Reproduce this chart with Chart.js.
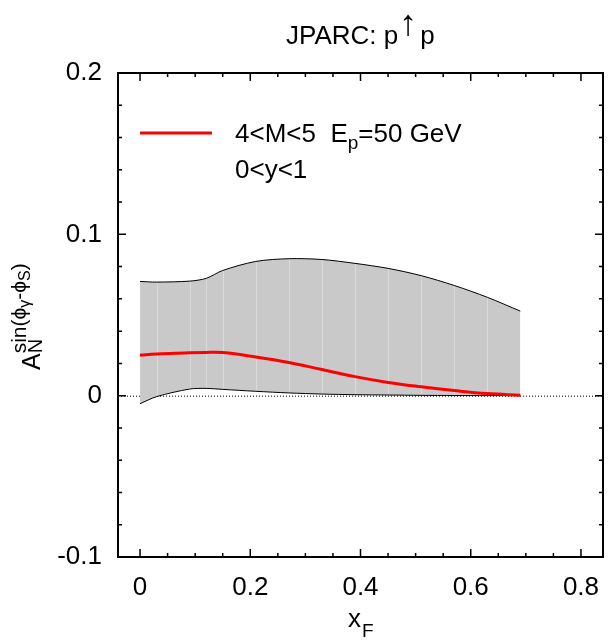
<!DOCTYPE html>
<html>
<head>
<meta charset="utf-8">
<script src="https://cdn.jsdelivr.net/npm/chart.js@4.4.0/dist/chart.umd.min.js"></script>
<style>
  body { margin: 0; background: #fff; }
</style>
</head>
<body>
<canvas id="asym" width="610" height="642"></canvas>
<script>
// xF points and the curves
const xF = [0, 0.03, 0.09, 0.12, 0.15, 0.21, 0.27, 0.33, 0.39, 0.45, 0.51, 0.57, 0.63, 0.69];
const central = [0.025, 0.0258, 0.0266, 0.0268, 0.0267, 0.0240, 0.0206, 0.0162, 0.0118, 0.0082, 0.0055, 0.0032, 0.0013, 0.0003];
const bandUpper = [0.0708, 0.0704, 0.0710, 0.0727, 0.0776, 0.0832, 0.0849, 0.0844, 0.0820, 0.0789, 0.0744, 0.0683, 0.0610, 0.0524];
const bandLower = [-0.0050, -0.0006, 0.0041, 0.0045, 0.0039, 0.0027, 0.0017, 0.0010, 0.0006, 0.0004, 0.0002, 0.0001, 0.00005, 0];
const xTicks = [0, 0.2, 0.4, 0.6, 0.8];
const yTicks = [-0.1, 0, 0.1, 0.2];

const FONT = '"Liberation Sans", Arial, Helvetica, sans-serif';

function pts(ys) {
    return xF.map((x, i) => ({ x: x, y: ys[i] }));
}

// frame, inward ticks, zero line, labels
const decorations = {
    id: 'decorations',
    beforeDatasetsDraw(chart) {
        const ctx = chart.ctx;
        const a = chart.chartArea;
        const y0 = chart.scales.y.getPixelForValue(0);
        ctx.save();
        ctx.strokeStyle = '#000';
        ctx.lineWidth = 1;
        ctx.setLineDash([1, 2]);
        ctx.beginPath();
        ctx.moveTo(a.left, y0 + 0.5);
        ctx.lineTo(a.right, y0 + 0.5);
        ctx.stroke();
        ctx.restore();
    },
    beforeDatasetDraw(chart, args) {
        // light seams inside the band, like the original filled polygon
        if (args.index !== 2) return;
        const ctx = chart.ctx;
        const xs = chart.scales.x, ys = chart.scales.y;
        ctx.save();
        ctx.strokeStyle = '#dcdcdc';
        ctx.lineWidth = 1;
        for (let i = 1; i < xF.length - 1; i++) {
            const px = Math.round(xs.getPixelForValue(xF[i])) + 0.5;
            ctx.beginPath();
            ctx.moveTo(px, ys.getPixelForValue(bandUpper[i]) + 1);
            ctx.lineTo(px, ys.getPixelForValue(bandLower[i]) - 1);
            ctx.stroke();
        }
        ctx.restore();
    },
    afterDraw(chart) {
        const ctx = chart.ctx;
        const a = chart.chartArea;
        const xs = chart.scales.x, ys = chart.scales.y;
        ctx.save();
        ctx.strokeStyle = '#000';
        ctx.lineWidth = 2;
        ctx.strokeRect(a.left, a.top, a.right - a.left, a.bottom - a.top);

        ctx.lineWidth = 1.5;
        ctx.beginPath();
        for (let k = 0; k <= 16; k++) {
            const v = k * 0.05;
            const len = (k % 4 === 0) ? 8 : 4;
            const px = xs.getPixelForValue(v);
            ctx.moveTo(px, a.bottom); ctx.lineTo(px, a.bottom - len);
            ctx.moveTo(px, a.top); ctx.lineTo(px, a.top + len);
        }
        for (let k = -5; k <= 10; k++) {
            const v = k * 0.02;
            const len = (k % 5 === 0) ? 8 : 4;
            const py = ys.getPixelForValue(v);
            ctx.moveTo(a.left, py); ctx.lineTo(a.left + len, py);
            ctx.moveTo(a.right, py); ctx.lineTo(a.right - len, py);
        }
        ctx.stroke();

        // title
        ctx.fillStyle = '#000';
        ctx.textBaseline = 'alphabetic';
        ctx.textAlign = 'left';
        ctx.font = '26px ' + FONT;
        let tx = 286;
        ctx.fillText('JPARC: p', tx, 44);
        tx += ctx.measureText('JPARC: p').width;
        ctx.font = '36px ' + FONT;
        ctx.textAlign = 'center';
        ctx.fillText('\u2191', tx + 10, 35);
        ctx.textAlign = 'left';
        ctx.font = '26px ' + FONT;
        ctx.fillText('p', tx + 22, 44);

        // x axis title
        ctx.font = '26px ' + FONT;
        ctx.fillText('x', 348, 627);
        ctx.font = '19px ' + FONT;
        ctx.fillText('F', 362, 637);

        // y axis title, rotated
        ctx.save();
        ctx.translate(40, 370);
        ctx.rotate(-Math.PI / 2);
        ctx.font = '25px ' + FONT;
        ctx.fillText('A', 0, 0);
        let sx = ctx.measureText('A').width;
        ctx.font = '20px ' + FONT;
        ctx.fillText('N', sx, 2);
        const sup = -14;
        const parts = [['sin(\u03D5', 21, 0], ['\u03B3', 16, 4], ['-\u03D5', 21, 0], ['S', 16, 4], [')', 21, 0]];
        parts.forEach(p => {
            ctx.font = p[1] + 'px ' + FONT;
            ctx.fillText(p[0], sx, sup + p[2]);
            sx += ctx.measureText(p[0]).width;
        });
        ctx.restore();

        // legend
        ctx.strokeStyle = '#ff0000';
        ctx.lineWidth = 3;
        ctx.beginPath();
        ctx.moveTo(140, 133);
        ctx.lineTo(212, 133);
        ctx.stroke();
        ctx.fillStyle = '#000';
        ctx.font = '26px ' + FONT;
        let lx = 235;
        ctx.fillText('4<M<5  E', lx, 142);
        lx += ctx.measureText('4<M<5  E').width;
        ctx.font = '19px ' + FONT;
        ctx.fillText('p', lx, 149);
        lx += ctx.measureText('p').width;
        ctx.font = '26px ' + FONT;
        ctx.fillText('=50 GeV', lx, 142);
        ctx.fillText('0<y<1', 235, 178);
        ctx.restore();
    }
};

const ctx = document.getElementById('asym');
new Chart(ctx, {
    type: 'line',
    data: {
        datasets: [
            {
                label: 'central',
                data: pts(central),
                borderColor: '#ff0000',
                borderWidth: 3,
                pointRadius: 0,
                tension: 0.4,
                fill: false
            },
            {
                label: 'lower',
                data: pts(bandLower),
                borderColor: '#000',
                borderWidth: 1,
                pointRadius: 0,
                tension: 0.3,
                fill: false
            },
            {
                label: 'upper',
                data: pts(bandUpper),
                borderColor: '#000',
                borderWidth: 1,
                pointRadius: 0,
                tension: 0.3,
                backgroundColor: '#c9c9c9',
                fill: 1
            }
        ]
    },
    options: {
        responsive: false,
        animation: false,
        layout: { padding: { left: 0, right: 7, top: 73, bottom: 0 } },
        plugins: {
            legend: { display: false },
            tooltip: { enabled: false },
            title: { display: false }
        },
        scales: {
            x: {
                type: 'linear',
                min: -0.04,
                max: 0.84,
                grid: { display: false, drawTicks: false },
                border: { display: false },
                afterFit: s => { s.height = 85; s.paddingLeft = 0; s.paddingRight = 0; },
                afterBuildTicks: s => { s.ticks = xTicks.map(v => ({ value: v })); },
                ticks: {
                    padding: 15,
                    color: '#000',
                    font: { family: FONT, size: 26 },
                    callback: v => String(Number(v.toFixed(2)))
                }
            },
            y: {
                min: -0.1,
                max: 0.2,
                grid: { display: false, drawTicks: false },
                border: { display: false },
                afterFit: s => { s.width = 118; s.paddingTop = 0; s.paddingBottom = 0; },
                afterBuildTicks: s => { s.ticks = yTicks.map(v => ({ value: v })); },
                ticks: {
                    padding: 16,
                    color: '#000',
                    font: { family: FONT, size: 26 },
                    callback: v => String(Number(v.toFixed(2)))
                }
            }
        }
    },
    plugins: [decorations]
});
</script>
</body>
</html>
